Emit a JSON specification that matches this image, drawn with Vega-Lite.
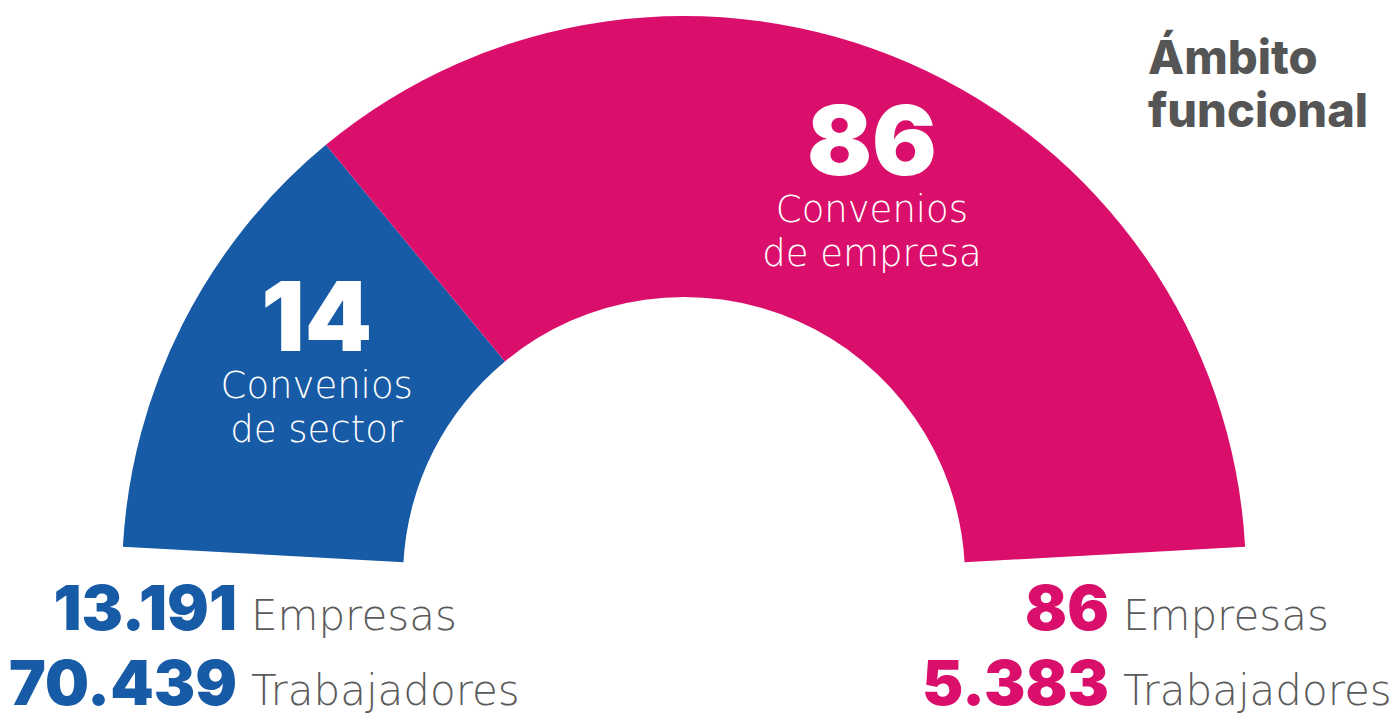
{
  "$schema": "https://vega.github.io/schema/vega-lite/v6.json",
  "width": 1399,
  "height": 716,
  "autosize": {"type": "none"},
  "padding": 0,
  "background": "white",
  "config": {
    "view": {"stroke": null},
    "text": {"font": "Inter"},
    "locale": {"number": {"decimal": ",", "thousands": ".", "grouping": [3], "currency": ["", " €"]}}
  },
  "datasets": {
    "convenios": [
      {"ambito": "sector", "convenios": 14, "etiqueta": "Convenios\nde sector", "arco": 27.2},
      {"ambito": "empresa", "convenios": 86, "etiqueta": "Convenios\nde empresa", "arco": 72.8}
    ],
    "estadisticas": [
      {"ambito": "sector", "metrica": "Empresas", "valor": 13191},
      {"ambito": "sector", "metrica": "Trabajadores", "valor": 70439},
      {"ambito": "empresa", "metrica": "Empresas", "valor": 86},
      {"ambito": "empresa", "metrica": "Trabajadores", "valor": 5383}
    ],
    "titulo": [{"texto": "Ámbito\nfuncional"}]
  },
  "layer": [
    {
      "data": {"name": "convenios"},
      "mark": {"type": "arc", "radius": 562, "radius2": 281},
      "encoding": {
        "x": {"datum": 0, "type": "quantitative", "scale": {"domain": [-1, 1], "range": [122, 1246]}, "axis": null},
        "y": {"datum": 0, "type": "quantitative", "scale": {"domain": [-1, 1], "range": [1140, 16]}, "axis": null},
        "theta": {"field": "arco", "type": "quantitative", "stack": true, "scale": {"range": [-1.515, 1.515]}},
        "order": {"field": "ambito", "sort": "descending"},
        "color": {"field": "ambito", "type": "nominal", "scale": {"domain": ["sector", "empresa"], "range": ["#175AA6", "#DA0F6B"]}, "legend": null}
      }
    },
    {
      "data": {"name": "convenios"},
      "mark": {"type": "text", "color": "white", "fontSize": 96, "fontWeight": 900, "align": "center", "baseline": "alphabetic", "dx": 24.5, "dy": -29.5, "radius": {"expr": "datum.ambito === 'sector' ? 439 : 408"}},
      "encoding": {
        "x": {"datum": 0, "type": "quantitative", "scale": {"domain": [-1, 1], "range": [122, 1246]}, "axis": null},
        "y": {"datum": 0, "type": "quantitative", "scale": {"domain": [-1, 1], "range": [1140, 16]}, "axis": null},
        "theta": {"field": "arco", "type": "quantitative", "stack": true},
        "order": {"field": "ambito", "sort": "descending"},
        "text": {"field": "convenios", "type": "quantitative"}
      }
    },
    {
      "data": {"name": "convenios"},
      "mark": {"type": "text", "color": "white", "font": "DejaVu Sans", "fontSize": 37, "fontWeight": 200, "align": "center", "baseline": "alphabetic", "lineBreak": "\n", "lineHeight": 44, "dx": 24.5, "dy": 18, "radius": {"expr": "datum.ambito === 'sector' ? 439 : 408"}},
      "encoding": {
        "x": {"datum": 0, "type": "quantitative", "scale": {"domain": [-1, 1], "range": [122, 1246]}, "axis": null},
        "y": {"datum": 0, "type": "quantitative", "scale": {"domain": [-1, 1], "range": [1140, 16]}, "axis": null},
        "theta": {"field": "arco", "type": "quantitative", "stack": true},
        "order": {"field": "ambito", "sort": "descending"},
        "text": {"field": "etiqueta", "type": "nominal"}
      }
    },
    {
      "data": {"name": "estadisticas"},
      "mark": {"type": "text", "align": "right", "baseline": "alphabetic", "dx": -7, "fontSize": 62, "fontWeight": 900},
      "encoding": {
        "x": {"field": "ambito", "type": "nominal", "scale": {"type": "point", "domain": ["sector", "empresa"], "range": [244, 1116], "padding": 0}, "axis": null},
        "y": {"field": "metrica", "type": "nominal", "scale": {"type": "point", "domain": ["Empresas", "Trabajadores"], "range": [630, 705], "padding": 0}, "axis": null},
        "text": {"field": "valor", "type": "quantitative", "format": ",d"},
        "color": {"field": "ambito", "type": "nominal", "scale": {"domain": ["sector", "empresa"], "range": ["#175AA6", "#DA0F6B"]}, "legend": null}
      }
    },
    {
      "data": {"name": "estadisticas"},
      "mark": {"type": "text", "align": "left", "baseline": "alphabetic", "dx": 7, "font": "DejaVu Sans", "fontSize": 42, "fontWeight": 200, "color": "#5a5a5a"},
      "encoding": {
        "x": {"field": "ambito", "type": "nominal", "scale": {"type": "point", "domain": ["sector", "empresa"], "range": [244, 1116], "padding": 0}, "axis": null},
        "y": {"field": "metrica", "type": "nominal", "scale": {"type": "point", "domain": ["Empresas", "Trabajadores"], "range": [630, 705], "padding": 0}, "axis": null},
        "text": {"field": "metrica", "type": "nominal"}
      }
    },
    {
      "data": {"name": "titulo"},
      "mark": {"type": "text", "align": "left", "baseline": "alphabetic", "fontSize": 47, "fontWeight": 800, "color": "#555555", "lineBreak": "\n", "lineHeight": 53},
      "encoding": {
        "x": {"datum": 0.8256, "type": "quantitative", "scale": {"domain": [-1, 1], "range": [122, 1246]}, "axis": null},
        "y": {"datum": 0.8968, "type": "quantitative", "scale": {"domain": [-1, 1], "range": [1140, 16]}, "axis": null},
        "text": {"field": "texto", "type": "nominal"}
      }
    }
  ],
  "resolve": {"scale": {"x": "independent", "y": "independent"}}
}
